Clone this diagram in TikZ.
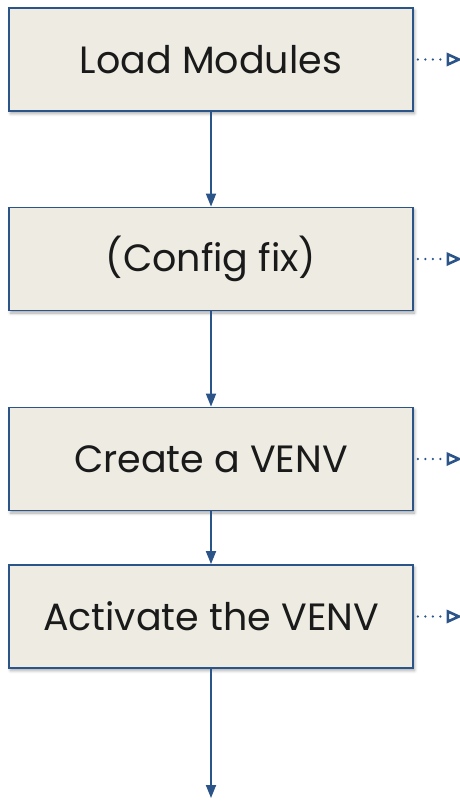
\documentclass[tikz,border=0pt]{standalone}
\usepackage{fontspec}
\setmainfont{Poppins}
\usetikzlibrary{arrows.meta,shadows.blur}
\definecolor{edgeblue}{HTML}{2B5489}
\definecolor{boxfill}{HTML}{EDEBE2}
\definecolor{txt}{HTML}{1A1A1A}
\begin{document}
\begin{tikzpicture}[x=1pt,y=-1pt,
  stepbox/.style={draw=edgeblue, line width=1.8pt, fill=boxfill, minimum width=404pt, minimum height=103pt, inner sep=0pt, font=\fontsize{38}{46}\selectfont, text=txt,
    blur shadow={shadow xshift=1.5pt, shadow yshift=-2.5pt, shadow blur steps=6, shadow blur radius=3pt, shadow opacity=35}},
  flow/.style={draw=edgeblue, line width=1.8pt, -{Triangle[width=10pt,length=13pt]}},
  sidedots/.style={draw=edgeblue, line width=2.6pt, line cap=round, dash pattern=on 0pt off 7.5pt},
  sidetip/.style={draw=edgeblue, line width=2.6pt, line join=miter, fill=white}]
\useasboundingbox (0,0) rectangle (460,801);
\node[stepbox] (b1) at (211,59.5) {Load Modules};
\node[stepbox] (b2) at (211,259) {(Config fix)};
\node[stepbox] (b3) at (211,459) {Create a VENV};
\node[stepbox] (b4) at (211,616.5) {Activate the VENV};
\coordinate (end) at (211,798);
\foreach \b in {b1,b2,b3,b4}{
  \coordinate (\b s) at ([xshift=4pt]\b.east);
  \coordinate (\b m) at ([xshift=34pt]\b.east);
  \coordinate (\b t) at ([xshift=45pt]\b.east);
  \draw[sidedots] (\b s) -- (\b m);
  \draw[sidetip] (\b t) -- ++(-11,-5) -- ++(0,10) -- cycle;
}
\draw[flow] (b1) -- (b2);
\draw[flow] (b2) -- (b3);
\draw[flow] (b3) -- (b4);
\draw[flow] (b4) -- (end);
\end{tikzpicture}
\end{document}
